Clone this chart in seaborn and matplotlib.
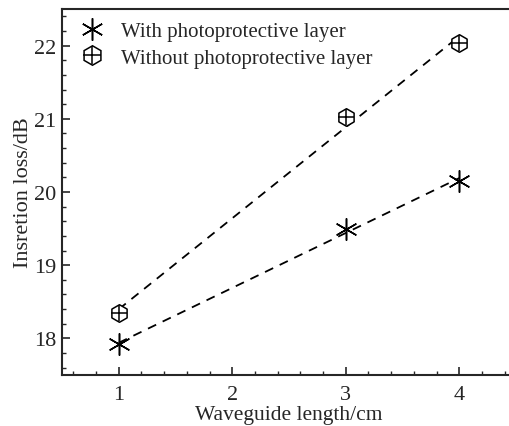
import pandas as pd
import matplotlib
matplotlib.use("Agg")
import matplotlib.pyplot as plt
import seaborn as sns
from matplotlib.legend_handler import HandlerTuple
from matplotlib.lines import Line2D
from matplotlib.ticker import MultipleLocator

lengths = [1, 3, 4]
loss_with = [17.92, 19.50, 20.15]
loss_without = [18.35, 21.03, 22.03]
labels = ["With photoprotective layer", "Without photoprotective layer"]

sns.set_theme(style="ticks")
plt.rcParams["font.family"] = ["Liberation Serif", "DejaVu Serif"]

df_with = pd.DataFrame({"x": lengths, "y": loss_with})
df_without = pd.DataFrame({"x": lengths, "y": loss_without})

fig = plt.figure(figsize=(5.09, 4.27), dpi=100)
ax = fig.add_axes([62 / 509, 1 - 376 / 427, 454 / 509, 366 / 427])

# dashed linear fits
for d in (df_with, df_without):
    sns.regplot(data=d, x="x", y="y", scatter=False, ci=None, ax=ax,
                line_kws=dict(color="black", ls=(0, (5, 4)), lw=1.3))

# markers
star = (6, 2, 0)
sns.scatterplot(data=df_with, x="x", y="y", marker=star, s=240, color="black",
                linewidth=1.1, ax=ax, zorder=3)
sns.scatterplot(data=df_without, x="x", y="y", marker="h", s=160, facecolor="white",
                edgecolor="black", linewidth=1.1, ax=ax, zorder=3)
sns.scatterplot(data=df_without, x="x", y="y", marker="+", s=140, color="black",
                linewidth=1.1, ax=ax, zorder=4)

ax.set_xlim(0.5, 4.5)
ax.set_ylim(17.5, 22.5)
ax.xaxis.set_major_locator(MultipleLocator(1))
ax.xaxis.set_minor_locator(MultipleLocator(0.2))
ax.yaxis.set_major_locator(MultipleLocator(1))
ax.yaxis.set_minor_locator(MultipleLocator(0.2))
ax.tick_params(which="major", direction="in", length=6, width=1.2, labelsize=16, pad=7)
ax.tick_params(axis="y", which="major", pad=4)
ax.tick_params(which="minor", direction="in", length=3, width=1.0)
ax.tick_params(top=False, right=False, which="both")
for side in ("left", "bottom", "top"):
    ax.spines[side].set_linewidth(1.5)
ax.spines["right"].set_visible(False)

ax.set_xlabel("Waveguide length/cm", fontsize=15.5, labelpad=1)
ax.set_ylabel("Insretion loss/dB", fontsize=16, labelpad=1)

h_with = Line2D([], [], ls="none", marker=star, ms=16, color="black", mew=1.1)
h_hex = Line2D([], [], ls="none", marker="h", ms=14, mfc="white", mec="black", mew=1.1)
h_plus = Line2D([], [], ls="none", marker="+", ms=13, color="black", mew=1.1)
ax.legend([h_with, (h_hex, h_plus)], labels, loc="upper left",
          handler_map={tuple: HandlerTuple(ndivide=1, pad=0)},
          frameon=False, fontsize=15, handlelength=1.2, handletextpad=0.8,
          labelspacing=0.35, borderaxespad=0.1, bbox_to_anchor=(0.015, 0.995))

fig.savefig("out.png", dpi=100)
